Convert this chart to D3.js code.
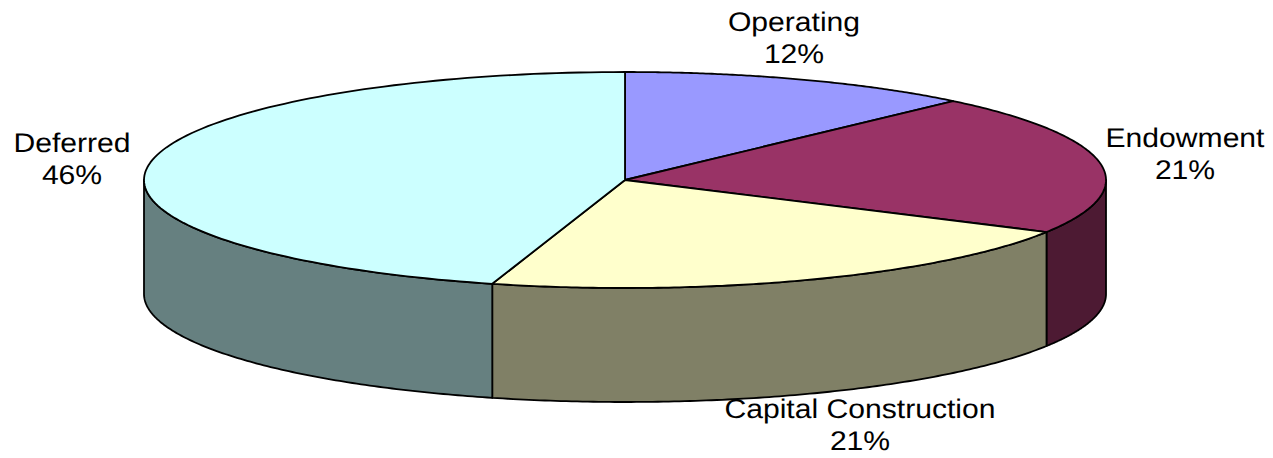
<!DOCTYPE html>
<html>
<head>
<meta charset="utf-8">
<script src="https://cdn.jsdelivr.net/npm/d3@7"></script>
<style>
html, body { margin: 0; padding: 0; background: #fff; }
svg { display: block; }
text { font-family: "Liberation Sans", Arial, sans-serif; font-size: 27px; fill: #000; text-rendering: geometricPrecision; }
</style>
</head>
<body>
<div id="chart"></div>
<script>
// data
var categories = ["Operating", "Endowment", "Capital Construction", "Deferred"];
var shares = [11.95, 21.05, 21.45, 45.55];
var percent_labels = ["12%", "21%", "21%", "46%"];
var top_colours = ["#9999ff", "#993366", "#ffffcc", "#ccffff"];
var side_colours = ["#4d4d80", "#4d1a33", "#808066", "#668080"];

var setWidth = 1273;
var setHeight = 458;

// ellipse of the top face and the height of the wall
var cx = 625, cy = 180, rx = 481, ry = 108, depth = 114;

// label anchor (centre x, baseline of the first line)
var label_pos = [[794, 31], [1185, 147], [860, 418], [72, 152]];
var line_gap = 32;
var stretch = 1.115; // the labels are wider than the font, stretched sideways

var svg = d3.select("#chart")
    .append("svg")
    .attr("width", setWidth)
    .attr("height", setHeight);

var pie = d3.pie().sort(null).value(function (d) { return d; });
var arcs = pie(shares);

// angles run clockwise from 12 o'clock, like d3.arc
var px = d3.scaleLinear().domain([-1, 1]).range([cx - rx, cx + rx]);
var py = d3.scaleLinear().domain([-1, 1]).range([cy - ry, cy + ry]);

var line = d3.line();

function rim(a0, a1, dy) {
    var n = 120;
    return d3.range(n + 1).map(function (i) {
        var a = a0 + (a1 - a0) * i / n;
        return [px(Math.sin(a)), py(-Math.cos(a)) + dy];
    });
}

// side walls only exist on the front half of the ellipse
function wall(d) {
    var a0 = Math.max(d.startAngle, Math.PI / 2);
    var a1 = Math.min(d.endAngle, Math.PI * 3 / 2);
    if (a1 <= a0) return null;
    return line(rim(a0, a1, 0).concat(rim(a1, a0, depth))) + "Z";
}

svg.selectAll("path.wall")
    .data(arcs)
    .join("path")
    .attr("class", "wall")
    .attr("d", wall)
    .style("fill", function (d, i) { return side_colours[i]; })
    .style("stroke", "#000")
    .style("stroke-width", 1.8)
    .style("stroke-linejoin", "round");

svg.selectAll("path.face")
    .data(arcs)
    .join("path")
    .attr("class", "face")
    .attr("d", function (d) {
        return line([[cx, cy]].concat(rim(d.startAngle, d.endAngle, 0))) + "Z";
    })
    .style("fill", function (d, i) { return top_colours[i]; })
    .style("stroke", "#000")
    .style("stroke-width", 1.8)
    .style("stroke-linejoin", "round");

// two line labels
var labels = svg.selectAll("text")
    .data(categories)
    .join("text")
    .attr("text-anchor", "middle")
    .attr("transform", function (d, i) {
        return "translate(" + label_pos[i][0] + "," + label_pos[i][1] + ") scale(" + stretch + ",1)";
    });

labels.append("tspan")
    .attr("x", 0)
    .attr("y", 0)
    .text(function (d) { return d; });

labels.append("tspan")
    .attr("x", 0)
    .attr("y", line_gap)
    .text(function (d, i) { return percent_labels[i]; });
</script>
</body>
</html>
